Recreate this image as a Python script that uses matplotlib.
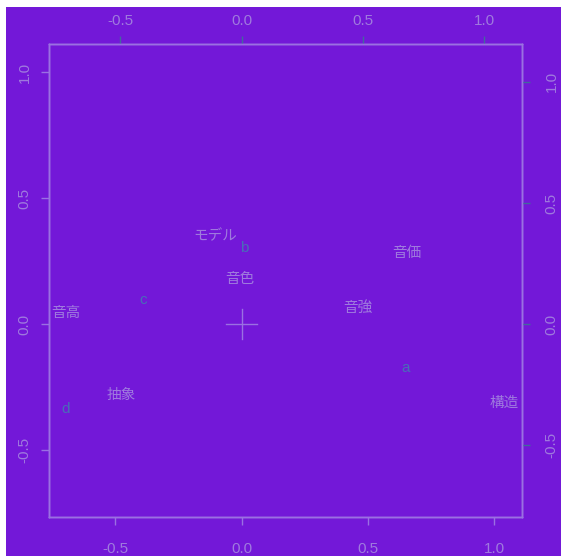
import matplotlib
matplotlib.use("Agg")
import matplotlib.pyplot as plt
from matplotlib.patches import Rectangle
from matplotlib.transforms import blended_transform_factory

# row scores (primary scale)
row_names = ["a", "b", "c", "d"]
row_x = [0.650, 0.010, -0.390, -0.699]
row_y = [-0.173, 0.303, 0.098, -0.336]

# column scores (secondary scale, top/right axes)
col_names = ["モデル", "音色", "音高", "音強", "音価", "抽象", "構造"]
col_x = [-0.109, -0.006, -0.724, 0.479, 0.683, -0.494, 1.084]
col_y = [0.361, 0.187, 0.045, 0.069, 0.293, -0.290, -0.323]

ticks = [-0.5, 0.0, 0.5, 1.0]
tick_labels = ["-0.5", "0.0", "0.5", "1.0"]

bg = "#7318d8"
frame = "#9a70e2"
txt = "#9f7ade"
row_col = "#4a6cb8"
tick2 = "#43689e"
num_font = "Liberation Sans"

fig = plt.figure(figsize=(5.61, 5.56), dpi=100, facecolor="white")
fig.patches.append(Rectangle((6 / 561, 0), 1, 549 / 556, transform=fig.transFigure,
                             facecolor=bg, edgecolor="none", zorder=-10))

ax = fig.add_axes([49 / 561, 39 / 556, 473 / 561, 473 / 556])
ax.set_facecolor(bg)
ax.set_xlim(-0.763, 1.111)
ax.set_ylim(-0.765, 1.112)

# secondary scale for the column scores
scale = 1.04
axt = ax.twiny()
axr = ax.twinx()
axt.set_xlim(-0.763 * scale, 1.111 * scale)
axr.set_ylim(-0.765 * scale, 1.112 * scale)

for a in (ax, axt, axr):
    for s in a.spines.values():
        s.set_color(frame)
        s.set_linewidth(1.0)
    a.patch.set_visible(False)

tl = 5.8
ax.set_xticks(ticks)
ax.set_xticklabels(tick_labels)
ax.set_yticks(ticks)
ax.set_yticklabels(tick_labels, rotation=90, va="center")
ax.tick_params(axis="x", colors=frame, labelcolor=txt, length=tl, width=1, pad=12, labelsize=11)
ax.tick_params(axis="y", colors=frame, labelcolor=txt, length=tl, width=1, pad=6.8, labelsize=11)

axt.set_xticks(ticks)
axt.set_xticklabels(tick_labels)
axt.tick_params(colors=tick2, labelcolor=txt, length=tl, width=1, pad=5.7, labelsize=11)
axr.set_yticks(ticks)
axr.set_yticklabels(tick_labels, rotation=90, va="center")
axr.tick_params(colors=tick2, labelcolor=txt, length=tl, width=1, pad=10.6, labelsize=11)

for a in (ax, axt, axr):
    for lab in a.get_xticklabels() + a.get_yticklabels():
        lab.set_fontfamily(num_font)

# row labels
for name, x, y in zip(row_names, row_x, row_y):
    ax.text(x, y, name, color=row_col, fontsize=11, ha="center", va="center",
            family=num_font)

# column labels: x from top axis, y from right axis
sec = blended_transform_factory(axt.transData, axr.transData)
for name, x, y in zip(col_names, col_x, col_y):
    axr.text(x, y, name, color=txt, fontsize=10.5, ha="center", va="center",
             family=["Noto Sans CJK JP", "DejaVu Sans"], transform=sec)

# origin cross
ax.plot([-0.06, 0.06], [0, 0], color=frame, lw=1)
ax.plot([0, 0], [-0.06, 0.06], color=frame, lw=1)

fig.savefig("out.png", dpi=100, facecolor="white")
